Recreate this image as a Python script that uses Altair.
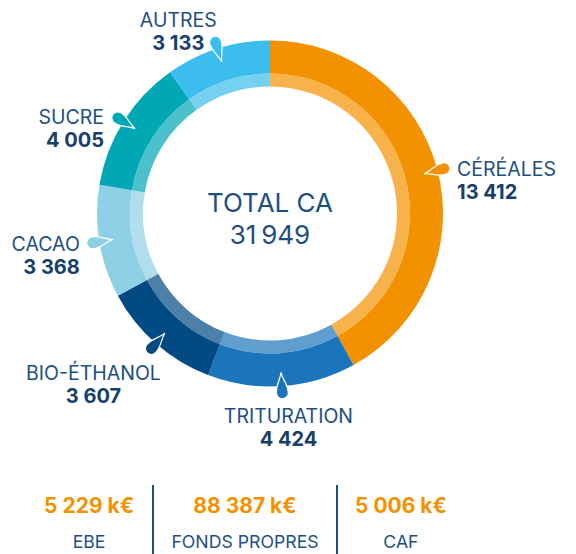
import altair as alt
import numpy as np
import pandas as pd

# ---- data ----
categories = ["CÉRÉALES", "TRITURATION", "BIO-ÉTHANOL", "CACAO", "SUCRE", "AUTRES"]
values = [13412, 4424, 3607, 3368, 4005, 3133]
colors = ["#F39200", "#1B75BB", "#024A83", "#8ED0E6", "#00A7B5", "#3BBDED"]
center_title = "TOTAL CA"
stat_values = [5229, 88387, 5006]
stat_labels = ["EBE", "FONDS PROPRES", "CAF"]
stat_unit = "k€"

FONT = "Inter"
NAVY = "#1E4F82"
NAVY_DARK = "#173F6B"
ORANGE = "#F39200"


def fmt(v, sep=" "):
    return f"{int(v):,}".replace(",", sep)


# ---- derived table ----
df = pd.DataFrame({"cat": categories, "value": values, "idx": range(len(values))})
total = df["value"].sum()
cum = df["value"].cumsum()
mid = (cum - df["value"] / 2) / total * 360.0
rad = np.deg2rad(mid)
s, c = np.sin(rad), np.cos(rad)
R_PIN = 172.5
df["px"] = R_PIN * s
df["py"] = -R_PIN * c
df["rot"] = (mid + 180) % 360
df["num"] = [fmt(v) for v in values]
side = np.where(s > 0.7, "left", np.where(s < -0.7, "right", "center"))
shift = np.where(c < 0, 95, 130) * s
tx = np.where(side == "left", df["px"] + 20,
              np.where(side == "right", df["px"] - 20, df["px"] + shift))
ty = np.where(side != "center", df["py"] + 8 - 10 * c,
              np.where(c < 0, df["py"] + 37, df["py"] - 22))
df["side"] = side
df["tx"] = tx
df["ty_name"] = ty
df["ty_num"] = ty + 23

W, H = 560, 460
CX, CY = 262, 205.5
xs = alt.Scale(domain=[-CX, W - CX], nice=False, zero=False)
ys = alt.Scale(domain=[-CY, H - CY], reverse=True, nice=False, zero=False)
cscale = alt.Scale(domain=categories, range=colors)

xc = alt.XDatum(0, type="quantitative", scale=xs, axis=None)
yc = alt.YDatum(0, type="quantitative", scale=ys, axis=None)

arc_base = alt.Chart(df).encode(
    theta=alt.Theta("value:Q", stack=True),
    order=alt.Order("idx:Q"),
    color=alt.Color("cat:N", scale=cscale, legend=None),
    x=xc,
    y=yc,
)
outer = arc_base.mark_arc(radius=173, radius2=140)
inner = arc_base.mark_arc(radius=140, radius2=127, opacity=0.7)

PIN = ("M0,-1 C0.08,-0.45 0.45,-0.1 0.45,0.55 A0.45,0.45 0 1 1 -0.45,0.55 "
       "C-0.45,-0.1 -0.08,-0.45 0,-1 Z")
pins = alt.Chart(df).mark_point(
    shape=PIN, filled=True, size=700, opacity=1, stroke="white", strokeWidth=1.2
).encode(
    x=alt.X("px:Q", scale=xs, axis=None),
    y=alt.Y("py:Q", scale=ys, axis=None),
    angle=alt.Angle("rot:Q", scale=None),
    color=alt.Color("cat:N", scale=cscale, legend=None),
)

label_layers = []
for al in ["left", "center", "right"]:
    sub = alt.Chart(df).transform_filter(alt.datum.side == al)
    label_layers.append(
        sub.mark_text(align=al, baseline="alphabetic", font=FONT, fontSize=19.5,
                      color=NAVY).encode(
            x=alt.X("tx:Q", scale=xs, axis=None),
            y=alt.Y("ty_name:Q", scale=ys, axis=None),
            text="cat:N",
        )
    )
    label_layers.append(
        sub.mark_text(align=al, baseline="alphabetic", font=FONT, fontSize=20,
                      fontWeight="bold", color=NAVY_DARK).encode(
            x=alt.X("tx:Q", scale=xs, axis=None),
            y=alt.Y("ty_num:Q", scale=ys, axis=None),
            text="num:N",
        )
    )

center_df = pd.DataFrame({"t": [center_title], "n": [fmt(total, "\u202f")]})
center_t = alt.Chart(center_df).mark_text(
    align="center", baseline="alphabetic", font=FONT, fontSize=26, color=NAVY, dy=-2
).encode(x=xc, y=yc, text="t:N")
center_n = alt.Chart(center_df).mark_text(
    align="center", baseline="alphabetic", font=FONT, fontSize=26, color=NAVY, dy=30
).encode(x=xc, y=yc, text="n:N")

donut = alt.layer(outer, inner, pins, *label_layers, center_t, center_n).properties(
    width=W, height=H
)

# ---- key figures row ----
sdf = pd.DataFrame({
    "label": stat_labels,
    "val": [f"{fmt(v)} {stat_unit}" for v in stat_values],
})
sx = alt.X("label:N", sort=stat_labels,
           scale=alt.Scale(type="point", padding=0.52, domain=stat_labels), axis=None)
sbase = alt.Chart(sdf)
svals = sbase.mark_text(align="center", baseline="alphabetic", font=FONT, fontSize=21,
                        fontWeight="bold", color=ORANGE).encode(
    x=sx, y=alt.value(45), text="val:N")
slabs = sbase.mark_text(align="center", baseline="alphabetic", font=FONT, fontSize=17.7,
                        color=NAVY).encode(
    x=sx, y=alt.value(80), text="label:N")
mid_col = sbase.transform_filter(alt.datum.label == stat_labels[1])
rule_l = mid_col.mark_rule(xOffset=-92, color=NAVY, strokeWidth=2).encode(
    x=sx, y=alt.value(17), y2=alt.value(90))
rule_r = mid_col.mark_rule(xOffset=92, color=NAVY, strokeWidth=2).encode(
    x=sx, y=alt.value(17), y2=alt.value(90))
stats = alt.layer(svals, slabs, rule_l, rule_r).properties(width=474, height=90)

chart = alt.vconcat(donut, stats, spacing=0).properties(padding=0).configure_view(
    stroke=None
)
chart.save("out.html", embed_options={"renderer": "svg", "actions": False})
